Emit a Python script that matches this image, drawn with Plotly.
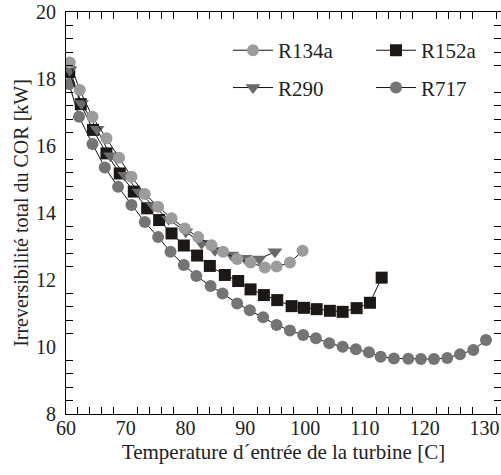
import plotly.graph_objects as go

# R134a
x_r134a = [60.63, 62.30, 64.43, 66.77, 68.88, 70.95, 73.18, 75.41, 77.65, 79.87,
           82.10, 84.34, 86.28, 88.63, 90.87, 93.26, 95.22, 97.45, 99.57]
y_r134a = [18.49, 17.67, 16.87, 16.23, 15.65, 15.08, 14.57, 14.19, 13.84, 13.54,
           13.28, 13.04, 12.84, 12.63, 12.52, 12.37, 12.40, 12.52, 12.87]

# R152a
x_r152a = [60.54, 62.47, 64.52, 66.77, 68.99, 71.34, 73.57, 75.58, 77.65, 79.71,
           81.93, 84.06, 86.57, 88.80, 90.87, 93.10, 95.33, 97.74, 99.80, 101.92,
           104.14, 106.27, 108.61, 110.84, 112.80]
y_r152a = [18.21, 17.25, 16.48, 15.78, 15.18, 14.64, 14.14, 13.79, 13.39, 13.03,
           12.73, 12.42, 12.15, 11.97, 11.72, 11.55, 11.40, 11.22, 11.17, 11.13,
           11.08, 11.05, 11.16, 11.32, 12.07]

# R290
x_r290 = [60.63, 62.59, 65.20, 67.44, 69.83, 72.23, 74.61, 77.19, 80.04, 82.67,
          84.90, 87.69, 89.92, 92.32, 94.94]
y_r290 = [18.27, 17.27, 16.50, 15.71, 15.13, 14.63, 14.21, 13.81, 13.44, 13.10,
          12.89, 12.75, 12.65, 12.63, 12.84]

# R717
x_r717 = [60.51, 62.18, 64.43, 66.49, 68.71, 70.95, 73.18, 75.41, 77.48, 79.71,
          81.80, 84.18, 86.18, 88.63, 90.75, 92.98, 95.22, 97.45, 99.67, 101.80,
          104.03, 106.27, 108.49, 110.67, 112.63, 114.85, 117.25, 119.37, 121.55,
          123.77, 125.90, 128.13, 130.25]
y_r717 = [17.85, 16.87, 16.06, 15.36, 14.78, 14.24, 13.73, 13.28, 12.84, 12.45,
          12.12, 11.82, 11.60, 11.30, 11.10, 10.89, 10.66, 10.49, 10.36, 10.26,
          10.11, 10.01, 9.93, 9.84, 9.71, 9.66, 9.65, 9.64, 9.64,
          9.67, 9.78, 9.91, 10.21]

# axis tick labels
x_ticks = [60, 70, 80, 90, 100, 110, 120, 130]
y_ticks = [8, 10, 12, 14, 16, 18, 20]

X_RANGE = [60, 132.76]
Y_RANGE = [8, 20]
# small tick marks (every 2 on x, every 0.4 on y), skipping labelled positions
x_minor = [60 + 2 * k for k in range(1, 37) if k % 5 != 0]
y_minor = [round(8 + 0.4 * k, 2) for k in range(1, 30) if k % 5 != 0]

FONT = "Liberation Serif, Times New Roman, serif"
LINE = dict(color="#111111", width=1)

fig = go.Figure()
fig.add_trace(go.Scatter(x=x_r717, y=y_r717, name="R717", mode="lines+markers",
                         line=LINE, legend="legend2", legendgroup="d", legendrank=2,
                         marker=dict(symbol="circle", size=12, color="#747474")))
fig.add_trace(go.Scatter(x=x_r152a, y=y_r152a, name="R152a", mode="lines+markers",
                         line=LINE, legend="legend2", legendgroup="c", legendrank=1,
                         marker=dict(symbol="square", size=12, color="#1c1816")))
fig.add_trace(go.Scatter(x=x_r290, y=y_r290, name="R290", mode="lines+markers",
                         line=LINE, legend="legend", legendgroup="b", legendrank=2,
                         marker=dict(symbol="triangle-down", size=13, color="#6a6a6a")))
fig.add_trace(go.Scatter(x=x_r134a, y=y_r134a, name="R134a", mode="lines+markers",
                         xaxis="x2", yaxis="y2",
                         line=LINE, legend="legend", legendgroup="a", legendrank=1,
                         marker=dict(symbol="circle", size=12, color="#9c9c9c")))

leg_common = dict(font=dict(family=FONT, size=21, color="#222222"),
                  bgcolor="rgba(0,0,0,0)", traceorder="grouped", tracegroupgap=7,
                  itemwidth=40,
                  xanchor="left", yanchor="top", y=0.955)

fig.update_layout(
    width=501, height=475,
    margin=dict(l=66, r=0, t=12, b=61),
    plot_bgcolor="white", paper_bgcolor="white",
    font=dict(family=FONT, size=20, color="#222222"),
    legend=dict(x=(228 - 66) / 435, **leg_common),
    legend2=dict(x=(371 - 66) / 435, **leg_common),
    # tick-mark axes (frame + small inside ticks)
    xaxis=dict(range=X_RANGE, tickmode="array", tickvals=x_minor,
               showticklabels=False, ticks="inside", ticklen=7,
               tickcolor="black", tickwidth=1,
               showline=True, linecolor="black", linewidth=1, mirror="ticks",
               showgrid=False, zeroline=False),
    yaxis=dict(range=Y_RANGE, tickmode="array", tickvals=y_minor,
               showticklabels=False, ticks="inside", ticklen=7,
               tickcolor="black", tickwidth=1,
               showline=True, linecolor="black", linewidth=1, mirror="ticks",
               showgrid=False, zeroline=False),
    # label axes (numbers + titles)
    xaxis2=dict(range=X_RANGE, overlaying="x", anchor="y2", side="bottom",
                tickmode="array", tickvals=x_ticks, ticks="",
                showline=False, showgrid=False, zeroline=False,
                title=dict(text="Temperature d´entrée de la turbine [C]",
                           font=dict(family=FONT, size=21), standoff=6)),
    yaxis2=dict(range=Y_RANGE, overlaying="y", anchor="x2", side="left",
                tickmode="array", tickvals=y_ticks, ticks="",
                ticklabelstandoff=9,
                showline=False, showgrid=False, zeroline=False,
                title=dict(text="Irreversibilité total du COR [kW]",
                           font=dict(family=FONT, size=20), standoff=2)),
)

fig.write_html("out.html")
